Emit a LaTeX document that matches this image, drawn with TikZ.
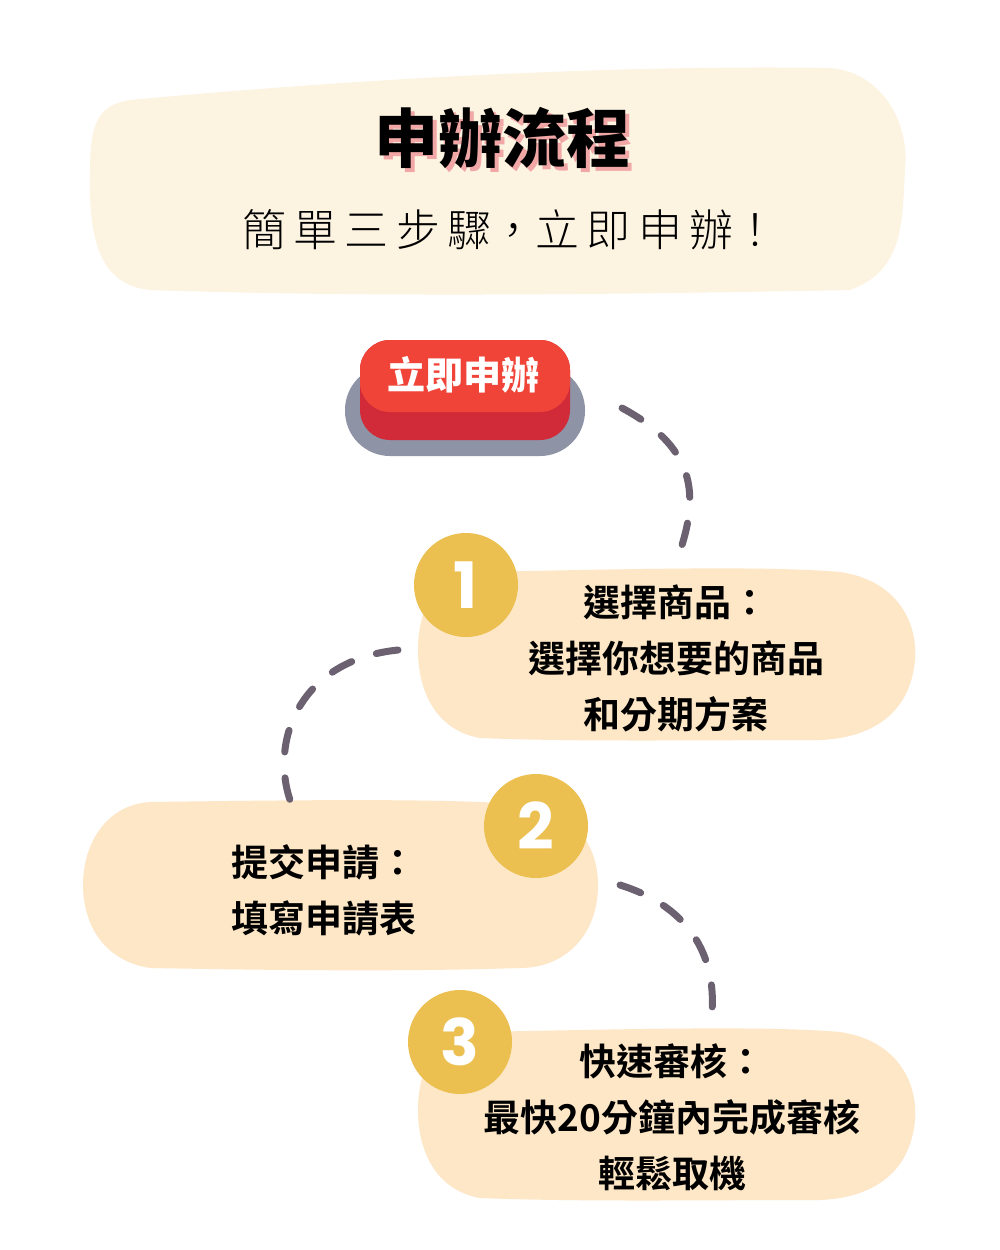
\documentclass[tikz,border=0pt]{standalone}
\usepackage{fontspec}
\newfontfamily\cjk{Noto Sans CJK TC}
\newfontfamily\cjkb{Noto Sans CJK TC Black}
\newfontfamily\cjkbold{Noto Sans CJK TC Bold}
\newfontfamily\cjkl{Noto Sans CJK TC Light}
\definecolor{cream}{HTML}{FDF3E1}
\definecolor{blob}{HTML}{FDE7C6}
\definecolor{gold}{HTML}{ECC050}
\definecolor{dash}{HTML}{6B6170}
\definecolor{btngrey}{HTML}{8E93A6}
\definecolor{btnred}{HTML}{D12B3A}
\definecolor{btntop}{HTML}{F04438}
\definecolor{pinkshadow}{HTML}{F2A7A7}
\tikzset{
 steptext/.style={font=\cjkbold\fontsize{37}{56}\selectfont, align=center, text=black},
 numcircle/.style={circle, fill=gold, minimum size=104pt, text=white, font=\fontspec{Poppins Bold}\fontsize{64}{64}\selectfont},
 dashline/.style={draw=dash, line width=7pt, line cap=round, dash pattern=on 22pt off 26pt}
}
\begin{document}
\begin{tikzpicture}[x=1pt,y=-1pt]
\useasboundingbox (0,0) rectangle (1000,1250);
\fill[white] (0,0) rectangle (1000,1250);
% title blob
\fill[cream] (130,100) .. controls (400,75) and (650,65) .. (830,68) .. controls (880,72) and (910,120) .. (905,170) .. controls (902,220) and (905,270) .. (850,290) .. controls (600,295) and (350,297) .. (150,290) .. controls (100,285) and (88,240) .. (90,170) .. controls (90,120) and (100,105) .. (130,100) -- cycle;
\node[font=\cjkb\fontsize{64}{64}\selectfont, text=black] (title) at (502,140) {\rlap{\kern4pt\raisebox{-4pt}{\textcolor{pinkshadow}{申辦流程}}}申辦流程};
\node[font=\cjkl\fontsize{44}{44}\selectfont, text=black] (sub) at (510,230) {簡\,單\,三\,步\,驟，立\,即\,申\,辦！};
% button
\fill[btngrey, rounded corners=45pt] (345,365) rectangle (585,456);
\fill[btnred, rounded corners=30pt] (360,340) rectangle (570,440);
\fill[btntop, rounded corners=30pt] (360,340) rectangle (570,412);
\node[font=\cjkb\fontsize{38}{38}\selectfont, text=white] (btn) at (463,375) {立即申辦};
% step blobs
\fill[blob] (470,572) .. controls (600,570) and (760,565) .. (840,572) .. controls (895,580) and (918,620) .. (915,660) .. controls (910,715) and (870,738) .. (820,740) .. controls (700,740) and (580,742) .. (480,738) .. controls (435,730) and (418,690) .. (418,650) .. controls (418,610) and (435,575) .. (470,572) -- cycle;
\fill[blob] (150,802) .. controls (300,800) and (450,798) .. (530,805) .. controls (580,815) and (598,850) .. (598,885) .. controls (598,935) and (565,968) .. (520,968) .. controls (400,972) and (260,970) .. (150,968) .. controls (100,960) and (83,920) .. (83,885) .. controls (83,845) and (105,805) .. (150,802) -- cycle;
\fill[blob] (470,1032) .. controls (600,1030) and (760,1025) .. (840,1032) .. controls (895,1040) and (918,1080) .. (915,1120) .. controls (910,1175) and (870,1198) .. (820,1200) .. controls (700,1200) and (580,1202) .. (480,1198) .. controls (435,1190) and (418,1150) .. (418,1110) .. controls (418,1070) and (435,1035) .. (470,1032) -- cycle;
% dashed connectors
\coordinate (d1a) at (622,408); \coordinate (d1b) at (675,565);
\coordinate (d2a) at (398,650); \coordinate (d2b) at (290,800);
\coordinate (d3a) at (620,885); \coordinate (d3b) at (710,1028);
\draw[dashline] (d1a) .. controls (700,450) and (700,500) .. (d1b);
\draw[dashline] (d2a) .. controls (300,660) and (270,740) .. (d2b);
\draw[dashline] (d3a) .. controls (700,910) and (720,970) .. (d3b);
% circles
\node[numcircle] (n1) at (466,585) {1};
\node[numcircle] (n2) at (536,826) {2};
\node[numcircle] (n3) at (460,1042) {3};
% texts
\node[steptext] (t1) at (676,658) {選擇商品：\\選擇你想要的商品\\和分期方案};
\node[steptext, align=left, anchor=west] (t2) at (228,890) {提交申請：\\填寫申請表};
\node[steptext] (t3) at (672,1117) {快速審核：\\最快20分鐘內完成審核\\輕鬆取機};
\end{tikzpicture}
\end{document}
